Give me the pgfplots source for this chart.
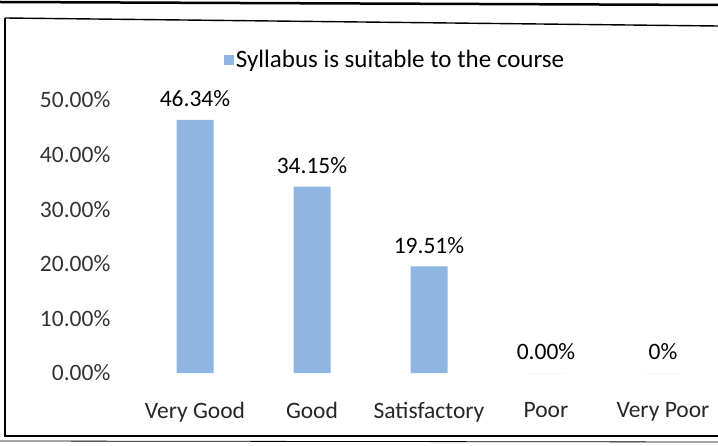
\documentclass[border=0pt]{standalone}
\usepackage{pgfplots}
\pgfplotsset{compat=1.18}
\usepackage{fontspec}
\setmainfont{Carlito}
\definecolor{barblue}{RGB}{143,182,226}
\begin{document}
\begin{tikzpicture}[x=1pt,y=1pt]
\useasboundingbox (0,0) rectangle (718,445);
% chart frame (y = 445 - pixel row)
\draw[line width=1.4pt] (5,427) -- (5,9) -- (718,9);
\draw[line width=1.4pt] (5,427) -- (718,419);
\draw[line width=0.8pt] (0,4) -- (718,3);
\draw[line width=2.5pt] (0,443) -- (718,440);
\begin{axis}[
  at={(136.5pt,72pt)}, anchor=south west,
  scale only axis, width=585pt, height=273pt,
  xmin=-0.5, xmax=4.5, ymin=0, ymax=50,
  axis line style={draw=none}, tick style={draw=none},
  xtick={0,1,2,3,4},
  xticklabels={Very Good,Good,Satisfactory,Poor,Very Poor},
  ytick={0,10,20,30,40,50},
  yticklabels={0.00\%,10.00\%,20.00\%,30.00\%,40.00\%,50.00\%},
  yticklabel style={anchor=east, inner sep=0pt, xshift=-26pt, text=black!80},
  xticklabel style={anchor=north, inner sep=0pt, yshift=-25pt, text=black!85},
  tick label style={font=\fontsize{23.5}{28}\selectfont},
  ybar, bar width=37pt,
  legend style={draw=none, fill=none, at={(0.442,1.147)}, anchor=center,
    font=\fontsize{25}{29}\selectfont, inner sep=0pt},
  legend image code/.code={\fill[barblue] (0pt,-5pt) rectangle (10pt,5pt);},
]
\addplot[fill=barblue, draw=none,
  nodes near coords, point meta=explicit symbolic,
  every node near coord/.append style={font=\fontsize{23.5}{28}\selectfont, anchor=south, inner sep=0pt, yshift=13pt, text=black}]
  coordinates {(0,46.34) [46.34\%] (1,34.15) [34.15\%] (2,19.51) [19.51\%] (3,0) [0.00\%] (4,0) [0\%]};
\addlegendentry{Syllabus is suitable to the course}
\end{axis}
\end{tikzpicture}
\end{document}
